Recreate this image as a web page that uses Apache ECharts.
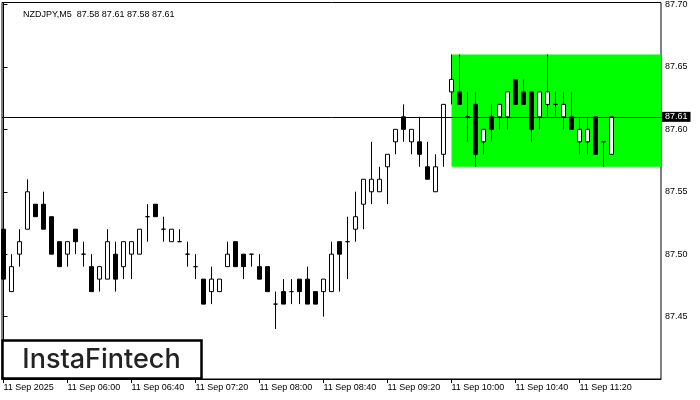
<!DOCTYPE html>
<html>
<head>
<meta charset="utf-8">
<script src="https://cdn.jsdelivr.net/npm/echarts@6/dist/echarts.min.js"></script>
<style>
html,body{margin:0;padding:0;background:#fff;}
#chart{width:700px;height:400px;}
</style>
</head>
<body>
<div id="chart"></div>
<script>
// ---- Data (NZDJPY M5, 11 Sep 2025, from 05:20 to 11:40) ----
var opens  = [87.52,87.47,87.50,87.52,87.54,87.54,87.53,87.51,87.50,87.52,87.50,87.49,87.48,87.48,87.50,87.49,87.50,87.50,87.53,87.54,
              87.52,87.51,87.51,87.50,87.49,87.48,87.47,87.47,87.49,87.51,87.50,87.50,87.49,87.49,87.46,87.47,87.47,87.48,87.48,87.47,
              87.47,87.47,87.51,87.51,87.52,87.54,87.55,87.55,87.57,87.59,87.61,87.59,87.59,87.57,87.55,87.58,87.63,87.63,87.61,87.62,
              87.59,87.61,87.61,87.61,87.64,87.63,87.63,87.61,87.62,87.62,87.61,87.61,87.59,87.59,87.61,87.59,87.58];
var closes = [87.48,87.49,87.51,87.55,87.53,87.52,87.50,87.49,87.51,87.51,87.50,87.47,87.49,87.51,87.48,87.51,87.51,87.52,87.53,87.53,
              87.52,87.52,87.51,87.50,87.49,87.46,87.48,87.48,87.50,87.49,87.49,87.50,87.48,87.47,87.46,87.46,87.47,87.47,87.46,87.46,
              87.48,87.50,87.50,87.51,87.53,87.56,87.56,87.56,87.58,87.60,87.60,87.60,87.58,87.56,87.57,87.62,87.64,87.62,87.61,87.58,
              87.60,87.60,87.62,87.63,87.62,87.62,87.60,87.63,87.63,87.62,87.62,87.60,87.60,87.60,87.58,87.59,87.61];
var highs  = [87.52,87.50,87.52,87.56,87.54,87.55,87.53,87.51,87.51,87.52,87.51,87.50,87.49,87.52,87.51,87.51,87.51,87.52,87.54,87.54,
              87.53,87.52,87.52,87.51,87.50,87.48,87.49,87.48,87.51,87.51,87.50,87.50,87.50,87.49,87.47,87.48,87.48,87.48,87.49,87.47,
              87.48,87.51,87.51,87.53,87.55,87.56,87.59,87.57,87.58,87.60,87.62,87.60,87.61,87.59,87.58,87.62,87.66,87.66,87.63,87.63,
              87.60,87.62,87.62,87.63,87.64,87.64,87.63,87.63,87.66,87.63,87.63,87.63,87.61,87.61,87.61,87.59,87.61];
var lows   = [87.48,87.47,87.49,87.52,87.53,87.52,87.50,87.49,87.49,87.50,87.49,87.47,87.47,87.48,87.47,87.48,87.48,87.50,87.51,87.53,
              87.51,87.51,87.51,87.49,87.48,87.46,87.46,87.47,87.49,87.49,87.48,87.49,87.48,87.47,87.44,87.46,87.46,87.46,87.46,87.46,
              87.45,87.47,87.47,87.48,87.51,87.52,87.54,87.55,87.54,87.58,87.59,87.58,87.57,87.56,87.55,87.57,87.62,87.62,87.59,87.57,
              87.58,87.59,87.60,87.60,87.62,87.62,87.59,87.60,87.61,87.61,87.60,87.60,87.58,87.58,87.58,87.57,87.58];

var tickIndex  = [0, 8, 16, 24, 32, 40, 48, 56, 64, 72];
var tickLabels = ['11 Sep 2025','11 Sep 06:00','11 Sep 06:40','11 Sep 07:20','11 Sep 08:00',
                  '11 Sep 08:40','11 Sep 09:20','11 Sep 10:00','11 Sep 10:40','11 Sep 11:20'];

var lastPrice = [87.61];
var zoneStart = [56];          // candle index where the flag zone begins
var zoneRange = [87.57, 87.66]; // low / high of the green zone
var titleText = 'NZDJPY,M5  87.58 87.61 87.58 87.61';

// ---- Build ----
var xMin = -0.1875, xMax = 82.1875;
var candles = opens.map(function (o, i) { return [i, o, closes[i], lows[i], highs[i]]; });

var chart = echarts.init(document.getElementById('chart'), null, {renderer: 'canvas'});
var FONT = 'Liberation Sans';
chart.setOption({
  animation: false,
  backgroundColor: '#fff',
  textStyle: {fontFamily: FONT},
  title: {
    text: titleText, left: 18, top: 5,
    textStyle: {fontSize: 9, fontWeight: 'normal', color: '#000', fontFamily: FONT}
  },
  grid: {
    left: 2, top: 2, right: 39, bottom: 21,
    show: true, borderColor: '#000', borderWidth: 1, backgroundColor: '#fff'
  },
  xAxis: {
    type: 'value', min: xMin, max: xMax,
    axisLine: {show: true, onZero: false, lineStyle: {color: '#000', width: 1}},
    axisTick: {show: true, customValues: tickIndex, length: 4, lineStyle: {color: '#000'}},
    axisLabel: {
      show: true, customValues: tickIndex, align: 'left', margin: 4,
      fontSize: 9, color: '#000', fontFamily: FONT,
      formatter: function (v) { var k = tickIndex.indexOf(Math.round(v)); return k >= 0 ? tickLabels[k] : ''; }
    },
    splitLine: {show: false}
  },
  yAxis: {
    type: 'value', position: 'right', scale: true,
    min: 87.40, max: 87.7016, interval: 0.05,
    axisLine: {show: true, lineStyle: {color: '#000', width: 1}},
    axisTick: {show: true, length: 4, lineStyle: {color: '#000'}},
    axisLabel: {
      show: true, margin: 4, fontSize: 9, color: '#000', fontFamily: FONT,
      showMinLabel: false,
      formatter: function (v) { return v.toFixed(2); }
    },
    splitLine: {show: false}
  },
  series: [{
    type: 'candlestick',
    data: candles,
    encode: {x: 0, y: [1, 2, 3, 4]},
    barWidth: 4,
    itemStyle: {
      color: '#ffffff', color0: '#000000',
      borderColor: '#000000', borderColor0: '#000000', borderColorDoji: '#000000',
      borderWidth: 1
    },
    markArea: {
      silent: true,
      itemStyle: {color: '#00ff00', opacity: 1},
      data: [[{xAxis: zoneStart[0], yAxis: zoneRange[1]}, {xAxis: xMax, yAxis: zoneRange[0]}]]
    },
    markLine: {
      silent: true, symbol: 'none', animation: false,
      lineStyle: {color: '#000', type: 'solid', width: 1},
      label: {
        show: true, position: 'end', distance: 1,
        backgroundColor: '#000', color: '#fff', padding: [1, 3, 0, 3],
        fontSize: 9, fontFamily: FONT,
        formatter: function (p) { return p.value.toFixed(2); }
      },
      data: [{yAxis: lastPrice[0]}]
    }
  }],
  graphic: [
    {type: 'rect', z: 100, shape: {x: 2.5, y: 340.5, width: 199, height: 38},
     style: {fill: '#fff', stroke: '#000', lineWidth: 2.5}},
    {type: 'text', z: 101, x: 101.5, y: 359.5,
     style: {text: 'InstaFintech', font: '500 27px Inter', fill: '#222',
             textAlign: 'center', textVerticalAlign: 'middle'}}
  ]
});
</script>
</body>
</html>
